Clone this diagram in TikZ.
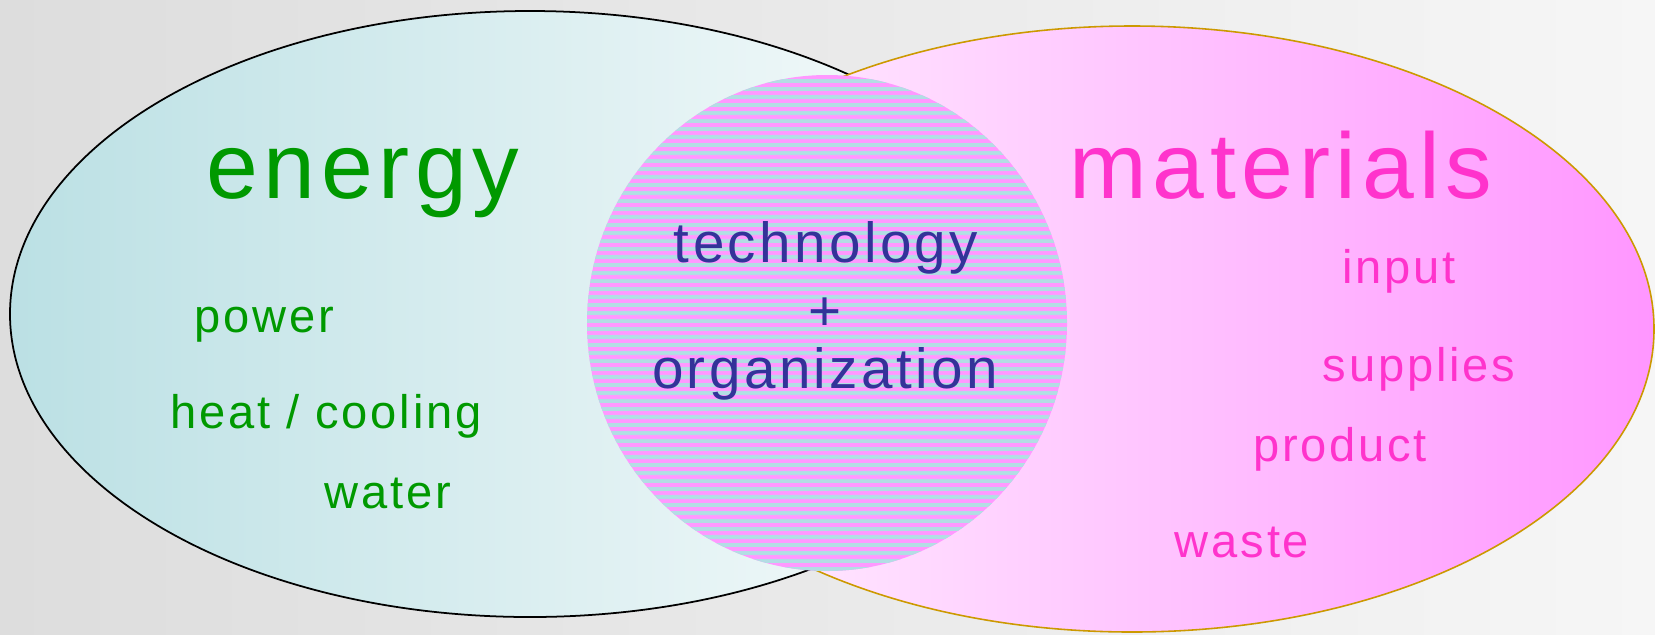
\documentclass[tikz,border=0pt]{standalone}
\usepackage{fontspec}
\setmainfont[LetterSpace=6]{Liberation Sans}
\usetikzlibrary{positioning, shapes.geometric}
\usepackage{color}

\definecolor{fundoesq}{HTML}{DDDDDD}
\definecolor{fundodir}{HTML}{F6F6F6}
\definecolor{azulesq}{HTML}{BBE0E4}
\definecolor{azuldir}{HTML}{FBFDFD}
\definecolor{rosaesq}{HTML}{FFF6FF}
\definecolor{rosadir}{HTML}{FF96FF}
\definecolor{ouro}{HTML}{CC9900}
\definecolor{listrarosa}{HTML}{FF99FF}
\definecolor{listraazul}{HTML}{B3DDE4}
\definecolor{verde}{HTML}{009900}
\definecolor{magenta}{HTML}{FF33CC}
\definecolor{anil}{HTML}{333399}

\begin{document}
\begin{tikzpicture}[thick,
    titulo/.style={anchor=base, font=\fontsize{26.5}{30}\selectfont},
    item/.style={anchor=base, font=\fontsize{13.4}{16}\selectfont},
    centro/.style={anchor=base, text=anil, font=\fontsize{16.1}{19}\selectfont}
]
    % fundo
    \useasboundingbox (0,0) rectangle (16.55,6.34);
    \fill [left color=fundoesq, right color=fundodir] (0,0) rectangle (16.55,6.34);

    \node [draw, ellipse,
        inner sep=0, line width=0.5pt,
        minimum width=10.4cm,
        minimum height=6.06cm,
        left color=azulesq, right color=azuldir
    ] (energia) at (5.30,3.20) {};

    \node [draw=ouro, ellipse,
        inner sep=0, line width=0.45pt,
        minimum width=10.44cm,
        minimum height=6.06cm,
        left color=rosaesq, right color=rosadir
    ] (materiais) at (11.32,3.05) {};

    % circulo listrado
    \node [ellipse,
        inner sep=0, fill=listrarosa,
        minimum width=4.8cm,
        minimum height=4.96cm,
        path picture={
            \foreach \k in {0,...,62}
                \fill [listraazul] ([yshift=-\k*0.08cm-0.04cm]path picture bounding box.north west)
                    rectangle ++(4.8,-0.04);
        }
    ] (nucleo) at (8.27,3.11) {};

    % textos
    \node [titulo, text=verde] (tenergia) at (3.63,4.36) {energy};
    \node [item, text=verde] (power) at (2.64,3.02) {power};
    \node [item, text=verde] (heat) at (3.26,2.06) {heat / cooling};
    \node [item, text=verde] (water) at (3.88,1.26) {water};

    \node [centro] (tech) at (8.26,3.72) {technology};
    \node [centro] (mais) at (8.25,3.04) {+};
    \node [centro] (org) at (8.25,2.46) {organization};

    \node [titulo, text=magenta] (tmateriais) at (12.81,4.36) {materials};
    \node [item, text=magenta] (input) at (13.99,3.51) {input};
    \node [item, text=magenta] (supplies) at (14.19,2.53) {supplies};
    \node [item, text=magenta] (product) at (13.40,1.73) {product};
    \node [item, text=magenta] (waste) at (12.42,0.77) {waste};
\end{tikzpicture}
\end{document}
